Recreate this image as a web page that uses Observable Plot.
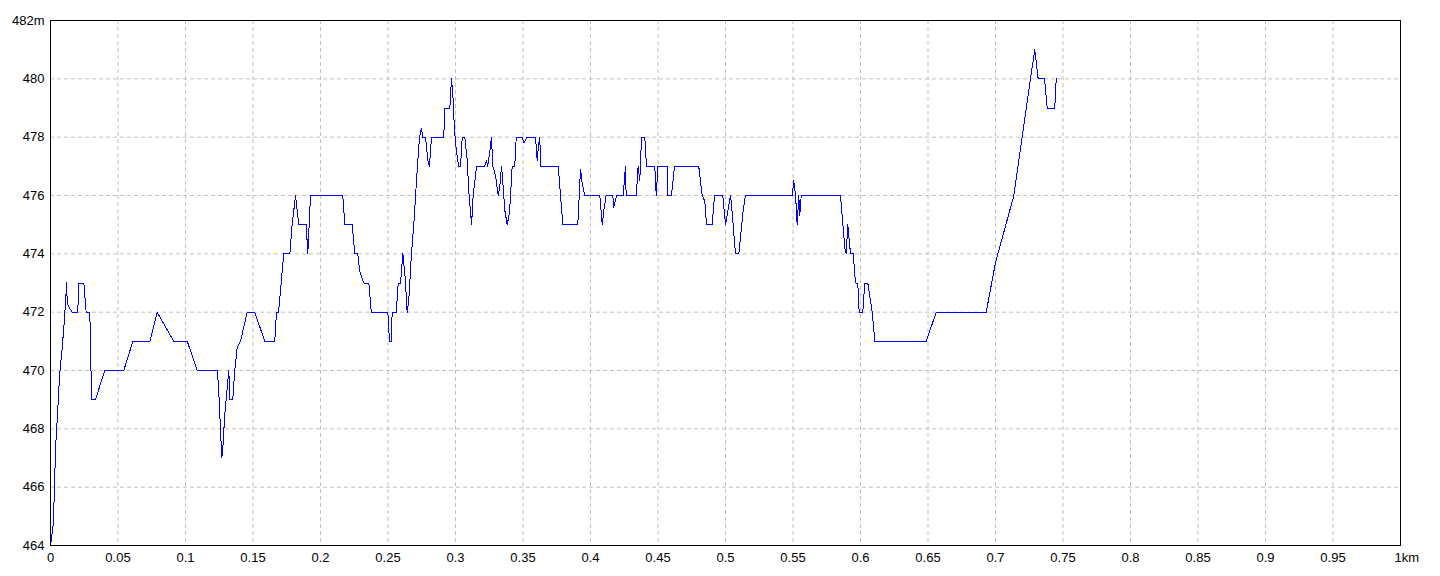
<!DOCTYPE html>
<html><head><meta charset="utf-8">
<script src="https://cdn.jsdelivr.net/npm/d3@7"></script>
<script src="https://cdn.jsdelivr.net/npm/@observablehq/plot@0.6"></script>
<style>html,body{margin:0;padding:0;background:#fff} svg{display:block}</style>
</head><body><div id="chart"></div>
<script>
// distance along track (metres) and elevation (metres)
const distance_m = [0,2,3,3.7,5.2,6.7,8.7,9.9,11.1,11.9,12.4,13.3,16.1,20.2,21.0,24.7,26.4,29.1,29.6,30.4,33.3,40.2,54.3,61.0,73.6,79.0,91.3,101.3,108.7,123.5,124.4,125.9,126.9,127.6,129.1,132.1,132.8,135.0,136.5,138.3,140.7,145.7,151.3,158.7,166.1,167.4,168.9,172.8,177.3,179.0,181.5,183.9,189.4,190.6,192.6,216.5,218.0,223.5,225.4,227.6,229.1,232.1,235.8,237.6,249.9,251.1,252.4,253.1,256.1,257.6,259.3,261.0,262.7,264.2,265.4,267.2,269.1,271.1,273.3,274.8,275.8,277.8,279.5,280.7,282.2,291.3,292.1,295.8,297.0,298.0,299.3,300.7,302.4,303.7,305.0,306.9,308.7,309.9,311.9,313.1,315.6,321.5,323.0,323.9,325.4,326.7,327.6,329.6,331.6,332.8,334.1,335.3,336.5,338.3,340.0,342.0,343.9,345.0,349.4,350.6,353.1,359.3,360.5,361.7,362.4,363.2,376.1,377.8,379.5,390.6,392.6,393.9,395.8,406.9,408.7,409.9,411.6,416.5,417.3,419.3,424.2,425.9,426.4,433.9,435.3,436.5,437.8,440.2,441.5,447.6,448.7,449.9,456.8,457.3,460.0,462.2,480.2,482.7,484.7,485.9,490.1,491.9,498.0,500.0,503.7,504.4,507.4,509.9,513.1,514.8,549.4,550.6,551.9,553.1,554.3,555.0,556.1,585.2,586.4,588.4,589.4,590.6,592.6,594.6,596.3,598.0,599.0,601.7,603.2,605.4,608.7,610.6,648.7,656.1,693.1,700.0,713.6,725.9,729.1,731.6,736.3,738.3,743.9,745.0];
const elevation_m = [464,464.7,466,467.3,468.5,469.8,470.8,471.5,472.3,473,472.3,472.2,472,472,473,473,472,472,471,469,469,470,470,471,471,472,471,471,470,470,469.5,468,467,467.3,468.5,470,469,469,470,470.8,471,472,472,471,471,472,472,474,474,475,476,475,475,474,476,476,475,475,474,474,473.4,473,473,472,472,471,471,472,472,473,473,474,473.2,472,472.4,473.9,475,476.5,478,478.3,478,478,477.2,477,478,478,479,479,480,479.5,478.2,477.5,477,477,478,478,477.2,476.1,475,476,477,477,477.2,477,477.5,478,477,476.7,476,476.3,477,476.3,475.5,475,475.4,477,477,478,478,477.8,478,478,477.2,477.8,478,477,477,476,475,475,476.9,476.4,476,476,475,475.5,476,476,475.6,476,476,477,476,476,477,476.5,478,478,477,477,476,477,477,476,476,477,477,476,475.8,475,475,476,476,475,476,475.7,474,474,475.5,476,476,476.5,476,475,476,475.3,476,476,475.3,474.2,474,475,474,474,473,473,472,472,473,473,472,471,471,472,472,473.7,476,480,481,480,480,479,479,480];
const xTicks = [0,0.05,0.1,0.15,0.2,0.25,0.3,0.35,0.4,0.45,0.5,0.55,0.6,0.65,0.7,0.75,0.8,0.85,0.9,0.95];
const xEndLabel = "1km";
const yTicks = [464,466,468,470,472,474,476,478,480,482];

const data = distance_m.map((d, i) => ({km: d / 1000, m: elevation_m[i]}));

const chart = Plot.plot({
  width: 1440, height: 576,
  marginLeft: 50, marginRight: 40, marginTop: 20, marginBottom: 31,
  style: {fontFamily: "'Liberation Sans Narrow', 'Liberation Sans', sans-serif", fontSize: "13px", background: "#fff", color: "#000"},
  x: {domain: [0, 1], label: null},
  y: {domain: [464, 482], label: null},
  marks: [
    Plot.ruleX(xTicks.filter(t => t > 0), {stroke: "#c0c0c0", strokeDasharray: "4,3", strokeOpacity: 1}),
    Plot.ruleY(yTicks.filter(t => t > 464 && t < 482), {stroke: "#c0c0c0", strokeDasharray: "4,3", strokeOpacity: 1}),
    Plot.line(data, {x: "km", y: "m", stroke: "#0000ff", strokeWidth: 1, shapeRendering: "crispEdges"}),
    Plot.frame({stroke: "#000", strokeWidth: 1.5, shapeRendering: "crispEdges"}),
    Plot.axisX(xTicks, {tickSize: 0, tickPadding: 7, tickFormat: d => String(d), label: null}),
    Plot.text([{x: 1, t: xEndLabel}], {x: "x", text: "t", frameAnchor: "bottom", dy: 12, lineAnchor: "middle", textAnchor: "start", dx: -6}),
    Plot.axisY(yTicks, {tickSize: 0, tickPadding: 6, tickFormat: d => d === 482 ? "482m" : String(d), label: null})
  ]
});
document.getElementById("chart").appendChild(chart);
</script>
</body></html>
